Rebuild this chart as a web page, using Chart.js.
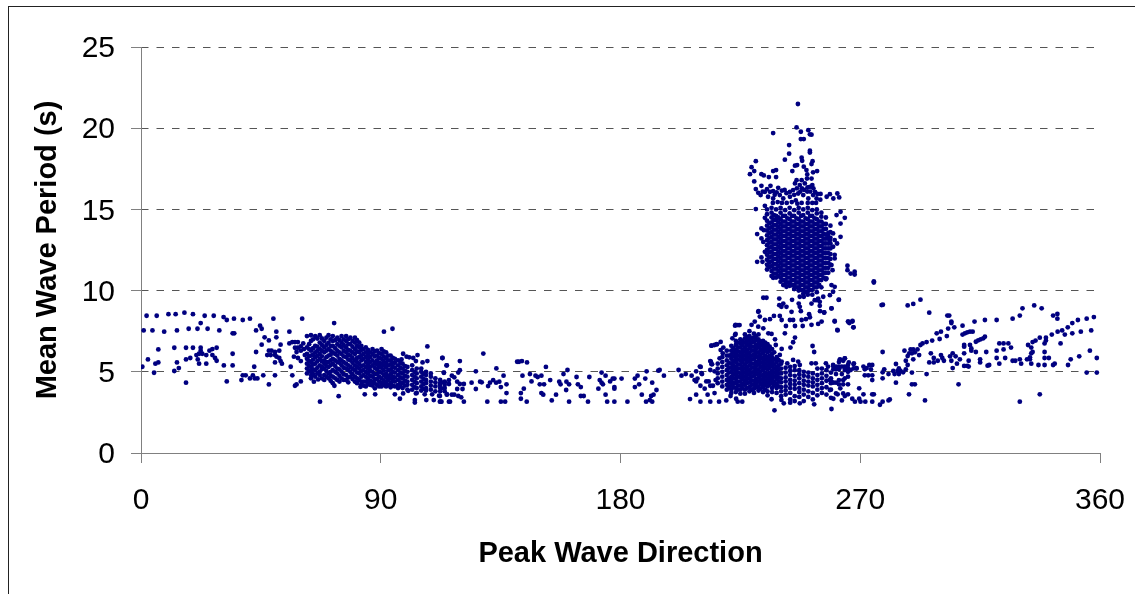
<!DOCTYPE html>
<html>
<head>
<meta charset="utf-8">
<script src="https://cdn.jsdelivr.net/npm/chart.js@4"></script>
<style>
  html, body { margin: 0; padding: 0; background: #fff; overflow: hidden; }
  #frame { position: absolute; left: 8px; top: 6px; width: 1127px; height: 588px; border-left: 1px solid #222; border-top: 1px solid #222; box-sizing: border-box; }
  #waveChart { position: absolute; left: 0; top: 0; }
</style>
</head>
<body>
<div id="frame"></div>
<canvas id="waveChart" width="1135" height="594"></canvas>
<script>
const xTickValues = [0, 90, 180, 270, 360];
const yTickValues = [0, 5, 10, 15, 20, 25];
const xAxisTitle = "Peak Wave Direction";
const yAxisTitle = "Mean Wave Period (s)";

// every row is [direction, period, period, ...]
const northScatter = [
  [2.1,8.45],[5.9,8.45],[10.3,8.55],[13,8.55],[16.3,8.64],[19.5,8.55],[23.9,8.45],[27.3,8.45],[31,8.37],[32.2,8.19],
  [34.9,8.27],[38.2,8.19],[40.9,8.27],[49.7,8.27],[60.5,8.27],[72.5,8],[94.4,7.65],[91.2,7.47],
  [1,7.55],[4.3,7.55],[8.7,7.47],[13.5,7.55],[17.9,7.65],[21.2,7.65],[25,7.65],[29.4,7.55],[22.4,8],[34.4,7.37],[35,7.37],
  [43.2,7.55],[44.7,7.84],[45.3,7.65],[50.8,7.47],[55.7,7.47],[46.4,7.12],[48,6.93],[50.8,7.12],[45.3,6.67],[52.4,6.67],
  [6.5,6.38],[12.5,6.48],[16.9,6.48],[19.5,6.48],[22.4,6.48],[22.4,6.3],[21.8,6.11],[20.8,6.03],[23,6.11],[24.5,6.03],
  [25.7,6.3],[26.8,6.4],[28.4,6.48],[26.8,6.03],[27.8,5.85],[28.4,5.68],[21.3,5.76],[21.8,5.5],[24.5,5.5],[18.5,5.85],
  [16.9,5.76],[13.5,5.58],[14.2,5.23],[12.5,5.05],[6.5,5.58],[5.4,5.5],[2.6,5.76],[0.5,5.31],[4.9,4.94],[16.9,4.33],
  [31.1,5.39],[34.4,5.39],[34.4,6.11],[43.2,6.22],[42.5,5.31],[32.2,4.41],[37.7,4.49],[38.2,4.78],[39.3,4.78],[40.9,4.59],
  [42,4.78],[42.7,4.59],[43.7,4.59],[45.9,4.78],[48,4.22],[50.3,4.78],
  [48,6.3],[49,6.3],[50.3,6.22],[51.9,6.3],[47.4,6.03],[48.7,6.03],[50.3,6.03],[50.9,5.93],[51.9,5.85],[52.4,5.66],[52.9,5.5],[50.3,5.58],
  [56.8,4.78],[56.2,5.31],[57.8,4.14],[58.4,4.22],[60,4.41],[55.7,6.75],[56.8,6.83],[57.8,6.83],[58.9,6.83],
  [57.8,6.48],[58.9,6.48],[60,6.56],[60.9,6.75],[60,6.3],[61.2,6.4],[58.4,6.22],[57.4,5.93],[58.9,5.85],[60,5.66],[61.5,6.03],
  [84,3.61],[87.9,3.61],[74.2,3.5],[67.2,3.16],[95.3,3.61],[97.2,3.34],[102.8,3.26],[102.8,3.11],[106.5,3.61],[107.1,3.26],
  [109.9,3.26],[112.2,3.16],[112.8,3.16],[115.6,3.16],[114.9,3.61],[111.9,3.53],[109.3,3.61],[98.4,3.67],[100.3,3.83],[103.2,3.67],
  [87.8,3.98],[82.4,4.08],[72.6,4.14],[64.9,4.39],[66.5,4.53],[63.9,4.78],
  [98.4,6.11],[99.7,5.93],[100.7,5.89],[102.2,5.85],[103.8,6.03],[97.8,5.76],[103.2,5.66],[105.7,5.58],[107.5,5.66],[113.2,5.85],
  [107.5,6.56],[114.7,5.39],[113.7,4.94]
];

const eastNorthCluster = [
  [62.3,7.2,6.5,6.1,5.8,5.5,5.2,4.9],
  [63.8,7.25,6.9,6.3,6,5.6,5.3,5,4.6],
  [65.4,7.2,6.6,6.2,5.9,5.5,5.1,4.7],
  [67.1,7.25,6.8,6.4,6.1,5.8,5.4,5,4.8],
  [68.8,6.9,6.5,6.2,5.7,5.5,5.2,4.8,4.5],
  [70.4,7.25,6.8,6.4,6,5.6,5.3,4.9,4.6],
  [72,7.2,6.9,6.6,6.2,5.8,5.5,5.1,4.7,4.3],
  [73.7,7.1,6.7,6.3,6,5.6,5.2,4.9,4.5],
  [75.3,7.2,6.8,6.5,6.1,5.7,5.4,5,4.6],
  [77,7.2,6.9,6.5,6.2,5.9,5.5,5.2,4.8,4.5],
  [78.6,7.1,6.7,6.3,6,5.7,5.3,5,4.7],
  [80.3,7.1,6.8,6.4,6.1,5.7,5.4,5.1,4.7,4.4],
  [81.9,6.8,6.5,6.2,5.9,5.5,5.2,4.9,4.5],
  [83.5,6.4,6.1,5.8,5.4,5.1,4.8,4.4,4.15],
  [85.2,6.35,6.05,5.75,5.45,5.2,4.9,4.55,4.25],
  [86.9,6.4,6.1,5.7,5.4,5,4.7,4.4,4.15],
  [88.6,6.3,6,5.7,5.45,5.15,4.85,4.55,4.2],
  [90.3,6.4,6.1,5.8,5.5,5.25,4.95,4.6,4.3,4.1],
  [92,6.2,5.85,5.55,5.3,4.9,4.65,4.35,4.1],
  [93.7,6,5.7,5.45,5.15,4.85,4.6,4.3,4.05],
  [95.3,5.8,5.55,5.25,4.95,4.65,4.4,4.1],
  [96.5,5.7,5.4,5.1,4.8,4.5,4.2,4],
  [98.2,5.5,5.2,4.9,4.6,4.3,4],
  [100,5.3,5,4.7,4.4,4.2,3.9],
  [101.8,5.4,5.1,4.8,4.5,4.2,3.9],
  [103.5,5.2,4.9,4.6,4.3,4,3.7],
  [105.2,5.2,5,4.7,4.4,4.1,3.85],
  [107,5,4.8,4.5,4.3,4,3.85],
  [108.8,4.9,4.7,4.4,4.15,3.9],
  [110.5,4.6,4.35,4.1,3.8],
  [112.3,4.5,4.3,4,3.8],
  [114,4.4,4.2,4,3.8]
];

const eastNorthFill = [
  [63.1,6.7,6.4,5.95,5.65,5.35,5.05],
  [64.6,7,6.45,6.05,5.75,5.45,5.15,4.85],
  [66.2,7.05,6.55,6.3,6,5.65,5.25,4.9],
  [67.9,7.05,6.65,6.3,5.95,5.65,5.3,5.15,4.6],
  [69.6,7.1,6.65,6.3,5.9,5.6,5.35,5.05,4.7],
  [71.2,7,6.6,6.3,6.05,5.7,5.4,5,4.75,4.45],
  [72.9,6.95,6.45,6.1,5.7,5.35,5,4.6],
  [74.5,6.95,6.6,6.2,5.8,5.55,5.15,4.75,4.4],
  [76.1,7,6.65,6.3,5.95,5.6,5.25,4.85,4.5],
  [77.8,7,6.7,6.35,6.05,5.75,5.4,5.1,4.65,4.35],
  [79.4,6.9,6.55,6.2,5.85,5.55,5.2,4.85,4.55],
  [81.1,6.95,6.6,6.25,5.85,5.6,5.3,4.95,4.6,4.3],
  [82.7,6.6,6.35,6,5.7,5.35,5.05,4.7,4.4,4.2],
  [84.4,6.5,6.2,5.9,5.6,5.3,5,4.7,4.4,4.1],
  [86,6.2,5.9,5.6,5.3,5.05,4.75,4.45,4.2],
  [87.7,6.25,5.95,5.55,5.25,4.85,4.55,4.3],
  [89.4,6.15,5.85,5.55,5.3,5,4.7,4.4,4.1],
  [91.1,6.25,5.95,5.65,5.4,5.1,4.8,4.45,4.2],
  [92.8,6,5.7,5.4,5.1,4.75,4.5,4.2],
  [94.5,5.85,5.55,5.3,5,4.7,4.45,4.15],
  [97.4,5.55,5.25,4.95,4.65,4.35,4.1],
  [99.1,5.35,5.05,4.75,4.45,4.15],
  [102.7,5,4.7,4.4,4.05],
  [106.1,4.85,4.55,4.25,3.95]
];

const southScatter = [
  [113.1,5.85],[114.8,5.4],[119.7,5.66],[128.5,6.12],[113.7,4.95],[119.7,5.1],[119.1,4.95],[125.7,5.03],[133.4,5.21],
  [141.2,5.62],[141.9,5.62],[143,5.66],[144.9,5.58],[152,5.3],[160.1,5.11],[158.6,4.86],[172.9,4.95],[189.8,5.03],[194.2,5.07],[194.7,5.11],
  [201.8,5.11],[210.1,5.3],[208.4,5.03],[112.8,4.35],[114,4.35],[112.2,4.19],[112.8,3.98],[115.6,4.49],[115.6,4.25],[116.7,4.76],
  [117.6,4.66],[118.7,4.39],[119.7,4.25],[121.2,4.25],[118.7,3.94],[120.7,3.94],[114.8,3.59],[116.7,3.59],[117.6,3.59],[119.1,3.51],
  [120.2,3.43],[121.2,3.16],[116,3.16],[112.5,3.16],[112.2,3.51],[124.1,4.33],[125.7,3.94],[127.3,4.39],[127.9,4.35],[130,3.16],
  [130.3,4.12],[131,4.33],[132.2,4.49],[133.3,4.33],[134.5,4.39],[136.1,4.76],[135.1,4.06],[137.2,4.23],[137.2,3.69],[135.1,3.16],
  [136.7,3.16],[143.2,4.76],[146,4.86],[146.6,4.41],[143.7,3.96],[142.6,3.69],[142.6,3.34],[144.8,3.16],[148.1,4.76],[148.9,4.68],
  [150.3,4.76],[149.7,4.23],[151.3,4.23],[150.3,3.69],[151,3.59],[153.6,4.49],[154.2,3.24],[155.8,3.59],[157,4.39],[157.5,4.23],
  [159.7,4.39],[160.7,4.23],[159.6,3.88],[160.7,3.16],[163.5,4.68],[164,4.23],[165.1,4.06],[165.1,3.51],[166.2,3.51],[167.8,3.16],
  [168.3,4.68],[172.2,4.49],[172.9,4.33],[173.4,4.23],[171.7,3.96],[174.4,4.76],[174.4,3.59],[175,3.16],[176.1,4.41],[177.1,4.58],
  [177.7,4.58],[177.7,4.06],[177.7,3.96],[180.4,4.58],[177.7,3.16],[182.6,3.16],[185.4,4.58],[186.4,4.76],[187,4.23],[185.4,4.06],
  [189.3,4.58],[191.9,4.33],[188,3.59],[193.5,3.88],[192.4,3.59],[191.5,3.51],[191,3.26],[189.6,3.16],[191.9,3.16],[196.3,4.76],
  [202.9,4.76],[204.5,4.86],[206.7,4.76],[207.8,4.49],[208.4,4.41],[208.9,4.58],[210.6,4.86],[210,4.14],[208.4,3.59],[206.1,3.32],
  [210,3.16],[211.6,3.96],[212.2,4.41],[213.1,4.41],[213.7,4.14],[214.7,4.14],[212.7,3.59],[213.7,3.16],[215.3,3.69],[217,3.16],
  [219.7,3.24],[221.3,3.51],[223.4,3.34],[224,3.16],[225.7,3.16],[237.8,2.63],[213.7,5.66],[214.1,5.48],[213.7,5.11],[215.3,5.03],
  [215.7,4.49],[214.1,6.61],[215.3,6.65],[216.2,6.69],[217.6,6.84],[217.6,6.34],[218.4,6.14],[217.2,5.83],[223,7.84],[224.1,7.88],
  [224.7,7.88],[223,7.27],[213.9,5.63],[214.4,5.46],[209.8,5.32],[210.4,4.91],[236.7,3.31],[240.4,3.27],[241.3,3.06],[247.3,3.06],[252.7,3]
];

const westLowCluster = [
  [216.5,5.5,5.2,4.9,4.6,4.3],
  [218.2,5.9,5.6,5.3,5,4.7,4.4,4.1],
  [219.9,6.3,6,5.7,5.4,5.1,4.8,4.5,4.2,3.9],
  [221.6,6.6,6.3,6.05,5.8,5.5,5.25,5,4.7,4.45,4.2,3.9,3.7],
  [223.3,6.9,6.65,6.35,6.1,5.85,5.6,5.3,5.05,4.8,4.55,4.3,4,3.75],
  [225,7,6.75,6.5,6.2,5.95,5.7,5.45,5.2,4.9,4.65,4.4,4.15,3.9,3.65],
  [226.7,7.3,7.05,6.8,6.5,6.25,6,5.75,5.45,5.2,4.95,4.7,4.45,4.2,3.9,3.65],
  [228.4,7.5,7.2,6.95,6.7,6.45,6.15,5.9,5.65,5.4,5.1,4.85,4.6,4.35,4.05,3.8],
  [230.1,7.35,7.1,6.85,6.55,6.3,6.05,5.8,5.5,5.25,5,4.75,4.45,4.2,3.95,3.7],
  [231.8,7.3,7,6.75,6.5,6.2,5.95,5.7,5.45,5.15,4.9,4.65,4.4,4.1,3.85],
  [233.5,6.9,6.65,6.4,6.15,5.85,5.6,5.35,5.1,4.8,4.55,4.3,4.05,3.75],
  [235.2,6.7,6.45,6.2,5.9,5.65,5.4,5.15,4.85,4.6,4.35,4.1,3.8,3.55],
  [236.9,6.4,6.1,5.85,5.6,5.35,5.05,4.8,4.55,4.3,4,3.75],
  [238.6,5.9,5.6,5.3,5.05,4.8,4.55,4.25,4,3.7],
  [240.3,5.5,5.2,4.9,4.6,4.35,4.05,3.8,3.5],
  [242,5.25,4.95,4.65,4.4,4.1,3.85,3.6],
  [243.7,5.3,5.05,4.8,4.5,4.25,4,3.7,3.3,3.1],
  [245.4,5.35,5.1,4.75,4.45,4.2,3.95,3.5,3.2],
  [247.1,5.1,4.85,4.6,4.3,4,3.75,3.45],
  [248.8,5,4.75,4.45,4.2,3.9,3.6,3.2],
  [250.5,4.95,4.7,4.4,4.15,3.8,3.45],
  [252.2,4.9,4.6,4.35,4.1,3.7,3.3],
  [253.9,5.2,4.8,4.5,4.2,3.9,3.55],
  [255.6,5.2,4.9,4.6,4.3,4,3.7],
  [257.3,5.1,4.75,4.45,4.05,3.6],
  [259,4.95,4.6,4.3,3.9,3.4]
];

const westLowFill = [
  [220.7,6,5.55,5.25,4.95,4.6,4.35,4.05],
  [222.4,6.45,6.2,5.95,5.65,5.4,5.15,4.85,4.6,4.3,4.05],
  [224.1,6.8,6.5,6.25,6,5.75,5.45,5.2,4.95,4.7,4.4,4.15,3.9],
  [225.8,6.9,6.65,6.35,6.1,5.85,5.6,5.3,5.05,4.8,4.55,4.25,4],
  [227.5,7.15,6.9,6.65,6.35,6.1,5.85,5.6,5.3,5.05,4.8,4.55,4.3,4],
  [229.2,7.05,6.8,6.55,6.3,6,5.75,5.5,5.25,4.95,4.7,4.45,4.2,3.9],
  [230.9,7.2,6.95,6.65,6.4,6.15,5.9,5.6,5.35,5.1,4.85,4.55,4.3,4.05],
  [232.6,6.85,6.6,6.35,6.05,5.8,5.55,5.3,5,4.75,4.5,4.25,3.95],
  [234.3,6.8,6.55,6.3,6,5.75,5.5,5.25,4.95,4.7,4.45,4.2,3.9],
  [236,6.55,6.3,6,5.75,5.5,5.25,4.95,4.7,4.45,4.2],
  [237.7,6.2,5.75,5.45,5.2,4.95,4.7,4.4,4.15],
  [239.4,5.7,5.4,5.15,4.9,4.65,4.4,4.1]
];

const middleScatter = [
  [231.8,8.73],[247.7,8.73],[254.9,8.73],[256.5,8.65],[223.2,7.89],[229.2,7.89],[230.4,8.09],[232.3,8.4],[234.2,8.19],[236.1,8.24],
  [237.6,8.44],[239.8,8.44],[240.5,8.19],[243.6,8.19],[244.8,8.19],[242.1,7.82],[245.5,7.82],[248.4,7.82],[251.1,8.36],[249.6,8.24],
  [248,8.19],[254.2,7.95],[251.7,7.89],[255.5,8.09],[260.4,8.13],[261.4,7.58],[265.5,8.09],[267.1,8.13],[267.4,7.74],
  [241.7,7.37],[245.5,7.11],[244.8,6.82],[243.8,6.49],[252.1,6.59],[252.7,6.22],[240.5,6.41],
  [231.7,7.78],[233.6,7.68],[235.5,7.37],[236.7,7.33],[238,7],[238.3,6.65],[239.8,6.04],[239.2,5.73],[240.5,5.63],
  [214.2,6.61],[216.1,6.7],[218.6,6.49],[222,7.06],[223.2,7.33],
  [242.6,5.52],[244.8,5.73],[246.7,5.63],[247.3,5.42],[251.7,5.52],[253.3,5.52],[257.1,5.52],[257.9,5.32],[259.8,5.42],[262.3,5.73],
  [264.2,5.83],[265.4,5.42],[267.6,5.52],[268.6,5.22],
  [233.6,9.56],[234.8,9.56],[239.6,9.51],[244.4,9.43],[247.3,9.62],[248.8,9.62],[241.1,9.2],[239.6,9.1],[240.4,9],[242.3,9],[246.9,9.2],
  [247.3,9],[251.7,9.2],[254.8,9.31],[254.8,9.06],[253.6,9.41],[259.2,8.9],[261.9,9.43],[231.7,8.69],[244.2,8.69],[250.8,8.55],[256.4,8.65]
];

const southWestCore = [
  [235,15,14.7,14.3,14,13.7,13.4,13.1,12.8,12.5,12.2,11.9,11.6,11.3],
  [236.7,15.1,14.8,14.5,14.2,13.9,13.6,13.3,13,12.7,12.4,12.1,11.8,11.5,11.2,10.9],
  [238.4,15,14.6,14.35,14.05,13.75,13.45,13.15,12.85,12.55,12.25,11.95,11.65,11.35,11.05,10.8],
  [240.1,15.1,14.8,14.4,14.1,13.8,13.5,13.2,12.9,12.6,12.3,12,11.7,11.4,11.1,10.8,10.55],
  [241.8,14.95,14.6,14.25,13.95,13.65,13.35,13.05,12.75,12.45,12.15,11.85,11.55,11.25,10.95,10.65,10.4],
  [243.5,15.1,14.75,14.4,14.1,13.8,13.5,13.2,12.9,12.6,12.3,12,11.7,11.4,11.1,10.8,10.5,10.3],
  [245.2,14.95,14.6,14.25,13.95,13.65,13.35,13.05,12.75,12.45,12.15,11.85,11.55,11.25,10.95,10.65,10.35,10.1],
  [246.9,15.1,14.8,14.4,14.1,13.8,13.5,13.2,12.9,12.6,12.3,12,11.7,11.4,11.1,10.8,10.5,10.2,10],
  [248.6,15,14.65,14.25,13.95,13.65,13.35,13.05,12.75,12.45,12.15,11.85,11.55,11.25,10.95,10.65,10.35,10.05,9.8],
  [250.3,15.1,14.8,14.4,14.1,13.8,13.5,13.2,12.9,12.6,12.3,12,11.7,11.4,11.1,10.8,10.5,10.2,9.95,9.75],
  [252,14.95,14.6,14.25,13.95,13.65,13.35,13.05,12.75,12.45,12.15,11.85,11.55,11.25,10.95,10.65,10.35,10.05,9.75],
  [253.7,15,14.75,14.4,14.1,13.8,13.5,13.2,12.9,12.6,12.3,12,11.7,11.4,11.1,10.8,10.5,10.2,9.9],
  [255.4,14.8,14.55,14.25,13.95,13.65,13.35,13.05,12.75,12.45,12.15,11.85,11.55,11.25,10.95,10.65,10.2],
  [257.1,14.5,14.1,13.8,13.45,13.2,12.9,12.6,12.3,12,11.7,11.4,11.1,10.7],
  [258.8,14,13.6,13.25,12.9,12.6,12.25,11.95,11.6]
];

const southWestFill = [
  [235.9,14.15,13.85,13.55,13.25,12.95,12.65,12.35,12.05,11.75,11.45],
  [237.6,14.65,14.35,14.05,13.75,13.45,13.15,12.85,12.55,12.25,11.95,11.65,11.35,11.05],
  [239.3,14.5,14.2,13.9,13.6,13.3,13,12.7,12.4,12.1,11.8,11.5,11.2,10.9],
  [241,14.6,14.25,13.95,13.65,13.35,13.05,12.75,12.45,12.15,11.85,11.55,11.25,10.95,10.65],
  [242.7,14.45,14.1,13.8,13.5,13.2,12.9,12.6,12.3,12,11.7,11.4,11.1,10.8,10.5],
  [244.4,14.6,14.25,13.95,13.65,13.35,13.05,12.75,12.45,12.15,11.85,11.55,11.25,10.95,10.65,10.35],
  [246.1,14.45,14.1,13.8,13.5,13.2,12.9,12.6,12.3,12,11.7,11.4,11.1,10.8,10.5,10.2],
  [247.8,14.6,14.25,13.95,13.65,13.35,13.05,12.75,12.45,12.15,11.85,11.55,11.25,10.95,10.65,10.35,10.05],
  [249.5,14.45,14.1,13.8,13.5,13.2,12.9,12.6,12.3,12,11.7,11.4,11.1,10.8,10.5,10.2,9.9],
  [251.2,14.6,14.25,13.95,13.65,13.35,13.05,12.75,12.45,12.15,11.85,11.55,11.25,10.95,10.65,10.35,10.05],
  [252.9,14.45,14.1,13.8,13.5,13.2,12.9,12.6,12.3,12,11.7,11.4,11.1,10.8,10.5,10.2],
  [254.6,14.25,13.95,13.65,13.35,13.05,12.75,12.45,12.15,11.85,11.55,11.25,10.95,10.65,10.35],
  [256.3,14.1,13.8,13.5,13.2,12.9,12.6,12.3,12,11.7,11.4,11.1,10.8],
  [258,13.55,13.2,12.9,12.6,12.3,12,11.7,11.4,11.1]
];

const highPeriodScatter = [
  [246.6,21.49],[246.1,20.05],[250.5,19.88],[237.3,19.7],[247.7,19.78],[251.1,19.62],[251.7,19.6],[247.7,19.33],[248.8,19.33],[243.3,18.96],
  [251.1,18.61],[251.1,18.5],[243.3,18.43],[241.7,18.06],[230.8,17.97],[248,18.18],[248.2,17.99],[252.1,17.97],[251.7,17.79],[229.2,17.6],
  [230.2,17.36],[228.6,17.17],[232.9,17.17],[233.8,17.09],[235.7,16.99],[237.3,17.36],[238.4,17.42],[238.4,16.99],[230.2,16.72],
  [245.5,17.69],[246.3,17.73],[244.5,17.36],[248.8,17.63],[249.8,17.42],[250.1,17.15],[252.3,17.28],[253.8,17.36],[246.1,16.8],[248,16.8],[251.7,16.9],
  [232.9,16.45],[236.3,16.45],[230.8,16.25],[231.7,16.02],[232.6,15.88],[234.2,16.08],[236.1,16.08],[237.3,16.13],[239.2,16.33],[235.4,15.78],
  [237.3,15.67],[239.8,15.88],[241.1,15.67],[243.6,16.08],[244.8,16.19],[245.5,16.6],[247.3,16.5],[249.2,16.6],[251.1,16.39],[253,16.08],
  [252.3,15.88],[253.6,15.67],[246.7,15.98],[248.6,15.88],[250.5,15.67],[243.6,15.78],[257.4,15.78],[258.6,15.94],[259.9,15.67],[261.4,15.98],[262.1,15.74],
  [237.9,15.9],[241.6,16.2],[249,16.2],[250,16.9],[252,16.5],[247.5,16.1],[245.8,15.55],[255,15.6],[242.4,15.4],[239,15.45],[248,15.4],[252,15.4],
  [233.4,16.1],[235,16.25],[238.6,16.05],[240.6,16.15],[242.3,16],[245.2,15.9],[246.2,16.3],[248.1,16.3],[250.1,16.1],[251.2,16.1],[253.9,15.95],[255.1,15.95],
  [250.2,16.35],[252.4,16.3],[253.4,15.4],[250.3,15.4],[246.4,15.35],[244.3,15.45],[240.6,15.4],[237.2,15.4],
  [230.8,15.02],[234.2,15.22],[234.2,14.48],[232.9,13.83],[233.8,13.72],[231.3,13.48],[232.9,13.21],[233.6,13],[231.3,11.77],[232.9,12.04],
  [233.3,11.77],[234.2,12.39],[235.2,11.57],[237.3,10.79],[241.1,10.34],[242.3,10.23],[244.2,10.34],
  [262.6,14.85],[264.2,14.48],[261.1,14.65],[262.6,14.13],[259.8,13.52],[257.9,13.42],[262.6,13.31],[260.4,13.11],[258.6,13.11],[259.8,12.7],
  [261.3,12.9],[260.4,12.2],[260.4,11.98],[259.2,11.57],[259.6,11.26],[257.3,10.75],[259.2,10.34],[260.4,10.23],[259.8,9.93],[258.6,9.72],
  [256.1,9.62],[254.2,9.51],[252.9,9.41],[265.2,11.53],[265.2,11.26],[266.4,11.05],[267.9,11.16],[267.9,10.99]
];

const westEastScatter = [
  [275.1,10.57],[275.1,10.5],[262,9.44],[259.2,8.91],[260.4,8.09],[265.4,8.09],[265.9,8],[267,8.09],[267.5,7.74],[261.5,7.55],[278,9.11],[278.5,9.13],
  [287.8,9.09],[289.9,9.18],[292.6,9.44],[295.9,8.64],[302.7,8.46],[303.4,8.46],[304.2,8.09],[304.2,8],[303,7.66],[305.3,7.74],[302.5,7.2],
  [300.3,7.47],[298.7,7.37],[299.8,7.02],[297,6.92],[294.9,6.83],[293.4,6.75],[292.6,6.65],[286.6,6.3],[288.9,6.38],[289.9,6.38],[288.4,6.14],
  [289.4,6.14],[290.5,6.2],[291.5,6.38],[292.1,6.03],[287.8,5.97],[289.9,5.77],[287.1,5.68],[287.8,5.42],[278.4,6.22],[296.5,6.14],[297.6,5.85],
  [295.9,5.58],[297.6,5.58],[299.1,5.68],[300.3,6.03],[300.8,5.85],[301.4,5.68],[303.7,5.95],[304.7,6.14],[305.8,5.95],[304.2,5.68],[307.4,5.77],
  [306.3,5.5],[304.7,5.23],[309,6.14],[310.7,5.68],[309,5.36],[310.2,5.36],[310.7,5.32],[308.4,7.84],[312.9,8.09],[316.8,8.19],[321.2,8.19],
  [327.2,8.27],[329.9,8.46],[330.9,8.91],[335.3,9.09],[338.1,8.91],[342.4,8.46],[344,8.56],[344,8.27],[308.4,7.29],[309.3,7.37],[310.2,7.43],
  [311.2,7.47],[312.2,7.47],[313.4,6.85],[314.3,6.94],[315.2,7],[316.2,7.06],[316.8,7.16],[309,6.65],[309,6.55],[311.2,6.65],[311.7,6.44],[311.7,6.3],
  [313.4,6.22],[315,5.77],[315,5.58],[317.3,6.22],[318.4,5.42],[317.8,5.38],[321.2,6.3],[321.2,5.85],[322.2,6.75],[323.8,6.75],[325.6,6.75],
  [323.8,6.38],[326.6,6.49],[324.4,5.85],[322.2,5.5],[327.2,5.68],[328.2,5.68],[329.9,5.77],[330.4,5.5],[332.6,5.77],[333.7,5.77],[334.2,6.14],
  [334.7,6.22],[333.7,5.89],[334.2,5.5],[336.9,5.42],[333,6.65],[334.2,6.49],[334.7,6.83],[335.8,6.92],[337.4,7.1],[339.7,7.1],[339.7,6.92],
  [339.2,6.75],[339.2,6.22],[339.2,5.85],[340.8,5.85],[339.2,5.42],[342.4,5.42],[343,5.5],[345.2,6.75],[341.9,7.29],[344.1,7.47],[345.8,7.55],
  [346.8,7.29],[347.9,7.74],[349.6,8],[349.6,7.37],[351.7,8.19],[352.8,7.47],[355,8.27],[357.7,8.37],[356.7,7.55],[356.2,6.3],[352.2,5.95],
  [349,5.77],[348,5.42],[358.8,5.85],[355,4.95],[358.8,4.95],[329.9,3.16],[337.4,3.61],
  [278.4,4.97],[279,5.15],[278.4,4.6],[280.6,4.86],[282.4,5.05],[282.9,4.86],[283.4,5.48],[284,5.05],[284.5,5.21],[285.1,5.05],[284.5,4.86],
  [286.1,4.97],[287.1,5.15],[289.4,4.95],[294.9,4.86],[283.4,4.33],[289.4,4.23],[290.5,4.23],[288.3,3.61],[294.3,3.24],[306.9,4.23],
  [277.4,2.97],[278.4,3.16],[280.6,3.24],[281.1,3.3],[274.5,3.61],[275.1,3.61],[274.5,3.16],[271.9,3.16],[271.2,3.61],[270.1,3.16],[269.6,3.98],
  [269.6,3.34],[268,3.16],[267,3.34],[265.4,3.61],[264.2,3.51],[263.6,3.67],[263.1,3.24],[259.9,3.34],[259.2,2.71],[260.9,3.67],[261.5,3.61],
  [262.5,3.98],[258.6,3.88],[271.2,5.32],[271.7,5.15],[272.4,5.23],[273.4,5.42],[274.5,5.42],[274,5.15],[274.5,4.78],[274.5,4.49],[271.7,4.78],[273,4.78],
  [259.9,5.32],[260.9,5.32],[262,5.32],[263.1,5.32],[264.2,5.32],[265.4,5.21],[266.4,5.11],[267.5,5.21],[268.6,5.21],[267.5,5.46],[265.7,5.58],
  [264.2,5.83],[263.6,5.68],[262.4,5.77],[262,5.6],[259.9,5.15],[260.9,5.15],[262,5.15],[264.2,5.11],[265.4,5],[260.9,4.86],[263.1,4.86],[265.4,4.7],
  [264.2,4.6],[262,4.49],[263.6,4.49],[262,4.23],[263.6,4.23],[265.4,4.23],[258.6,4.49],[259.9,4.33],[260.9,4.33],[259.2,4.39]
];

function toPoints(rows) {
  return rows.flatMap(([direction, ...periods]) => periods.map((period) => ({ x: direction, y: period })));
}

const wavePoints = [
  northScatter, eastNorthCluster, eastNorthFill, southScatter, westLowCluster, westLowFill,
  middleScatter, southWestCore, southWestFill, highPeriodScatter, westEastScatter,
].flatMap(toPoints);

const tickFont = { family: "'Liberation Sans', Arial, sans-serif", size: 30 };
const titleFont = { family: "'Liberation Sans', Arial, sans-serif", size: 29, weight: "bold" };
const axisGrey = "#808080";

new Chart(document.getElementById("waveChart"), {
  type: "scatter",
  data: {
    datasets: [
      {
        data: wavePoints,
        backgroundColor: "#000080",
        borderWidth: 0,
        pointRadius: 2.4,
      },
    ],
  },
  options: {
    responsive: false,
    animation: false,
    layout: { padding: { left: 0, right: 35, top: 47, bottom: 0 } },
    plugins: { legend: { display: false }, tooltip: { enabled: false } },
    scales: {
      x: {
        type: "linear",
        min: 0,
        max: 360,
        afterBuildTicks: (scale) => { scale.ticks = xTickValues.map((value) => ({ value })); },
        afterFit: (scale) => {
          scale.height = 141;
          scale.paddingLeft = 0;
          scale.paddingRight = 0;
        },
        ticks: { font: tickFont, color: "#000", padding: 20, maxRotation: 0, autoSkip: false },
        grid: { drawOnChartArea: false, drawTicks: true, tickLength: 10, tickColor: axisGrey },
        border: { color: axisGrey },
        title: { display: true, text: xAxisTitle, font: titleFont, color: "#000", padding: { top: 0, bottom: 23 } },
      },
      y: {
        type: "linear",
        min: 0,
        max: 25,
        afterBuildTicks: (scale) => { scale.ticks = yTickValues.map((value) => ({ value })); },
        afterFit: (scale) => { scale.width = 141; },
        ticks: { font: tickFont, color: "#000", padding: 16, labelOffset: 2, autoSkip: false },
        grid: { color: "#555", drawTicks: true, tickLength: 10, tickColor: axisGrey },
        border: { color: axisGrey, dash: [7.5, 8], dashOffset: 1 },
        title: { display: true, text: yAxisTitle, font: titleFont, color: "#000", padding: { top: 31, bottom: 0 } },
      },
    },
  },
});
</script>
</body>
</html>
